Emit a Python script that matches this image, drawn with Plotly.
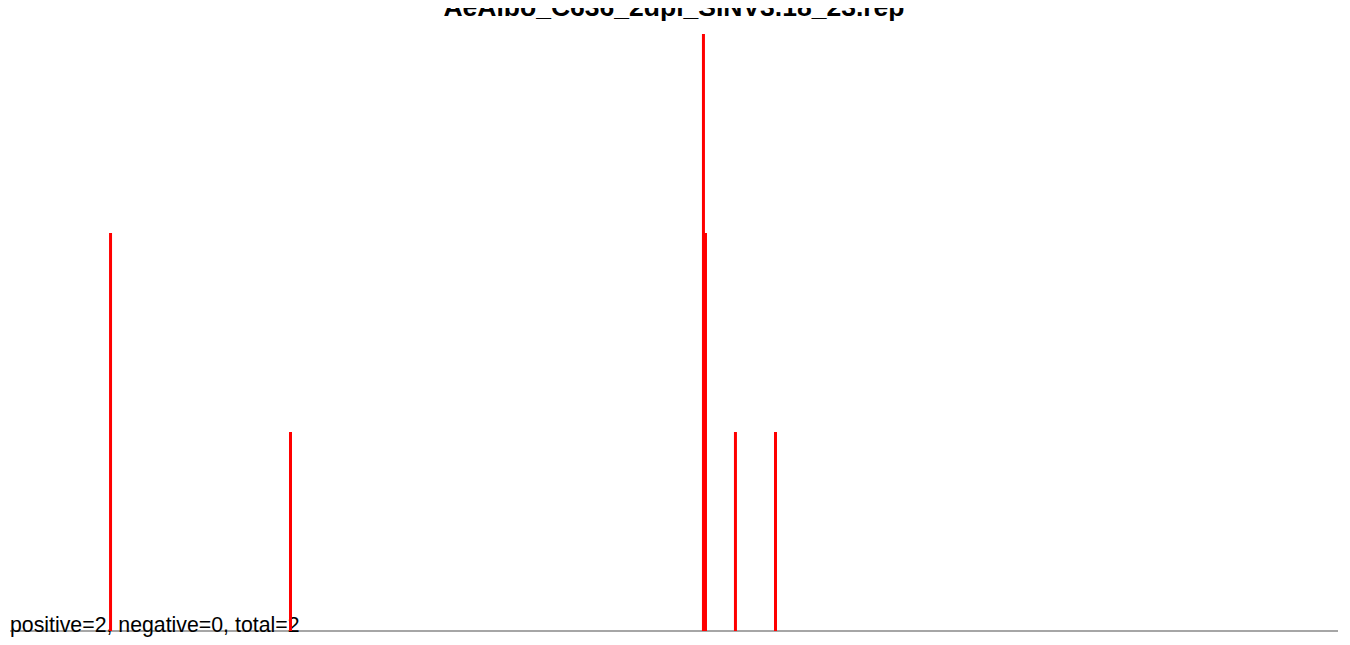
import plotly.graph_objects as go

title = "AeAlbo_C636_2dpi_SINV3.18_23.rep"
summary = "positive=2, negative=0, total=2"
genome_len = 11703

# read positions (nt) and counts
pos = [886, 2472, 6111, 6129, 6393, 6746]
count = [2, 1, 3, 2, 1, 1]

# type="h" style vertical lines
xs, ys = [], []
for p, c in zip(pos, count):
    xs += [p, p, None]
    ys += [0, c, None]

fig = go.Figure()
# summary text sits under the lines, on the baseline
fig.add_trace(go.Scatter(x=[0], y=[-0.03], mode="text", text=[summary],
                         textposition="top right", cliponaxis=False,
                         textfont=dict(family="Liberation Sans, Arial", size=21.3, color="black"),
                         hoverinfo="skip", showlegend=False))
fig.add_trace(go.Scatter(x=xs, y=ys, mode="lines", line=dict(color="red", width=3),
                         cliponaxis=False, showlegend=False))

# page body has an 8px margin, so margins are 8px less than page positions
fig.update_layout(
    width=1350, height=645,
    margin=dict(l=2, r=20, t=26, b=15),
    paper_bgcolor="white", plot_bgcolor="white",
    title=dict(text="<b>" + title + "</b>", x=666 / 1350, xanchor="center",
               y=(645 - 8) / 645, yanchor="bottom",
               font=dict(family="Liberation Sans, Arial", size=26.5, color="black")),
    xaxis=dict(range=[0, genome_len], showgrid=False, zeroline=False, showticklabels=False,
               ticks="", showline=False),
    yaxis=dict(range=[-0.035, 3], showgrid=False, showticklabels=False, ticks="",
               showline=False, zeroline=True, zerolinecolor="#a6a6a6", zerolinewidth=2),
)

fig.write_html("out.html")
